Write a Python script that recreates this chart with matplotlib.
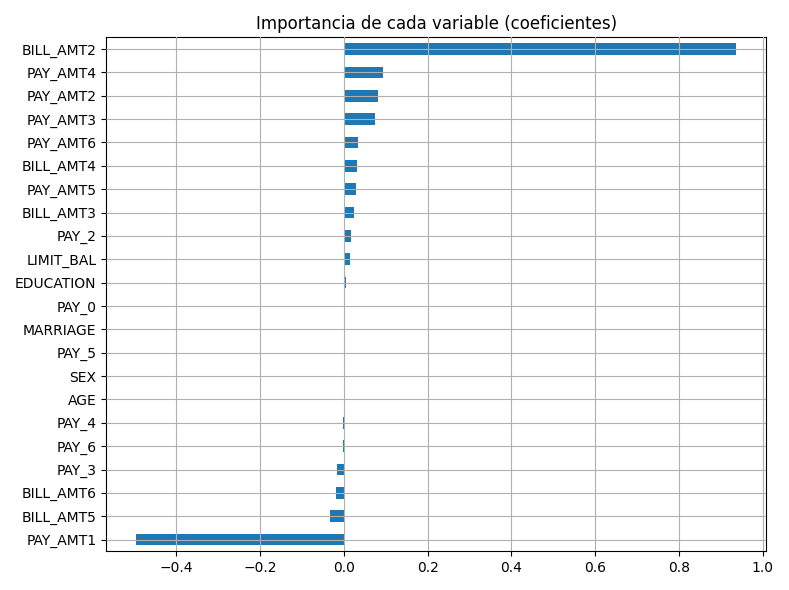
import matplotlib
matplotlib.use("Agg")
import matplotlib.pyplot as plt

features = ["PAY_AMT1", "BILL_AMT5", "BILL_AMT6", "PAY_3", "PAY_6", "PAY_4", "AGE", "SEX",
            "PAY_5", "MARRIAGE", "PAY_0", "EDUCATION", "LIMIT_BAL", "PAY_2", "BILL_AMT3",
            "PAY_AMT5", "BILL_AMT4", "PAY_AMT6", "PAY_AMT3", "PAY_AMT2", "PAY_AMT4", "BILL_AMT2"]
coefs = [-0.496, -0.033, -0.019, -0.017, -0.003, -0.002, -0.0001, 0.0001,
         0.0002, 0.0003, 0.0005, 0.004, 0.014, 0.018, 0.023,
         0.028, 0.031, 0.033, 0.073, 0.082, 0.094, 0.936]

fig, ax = plt.subplots(figsize=(7.89, 5.9), dpi=100)
ax.barh(range(len(features)), coefs, height=0.5, color="#1f77b4")
ax.set_yticks(range(len(features)))
ax.set_yticklabels(features)
ax.set_ylim(-0.5, len(features) - 0.5)
ax.grid(True)
ax.set_axisbelow(False)
ax.set_title("Importancia de cada variable (coeficientes)")
plt.tight_layout()
plt.savefig("out.png")
